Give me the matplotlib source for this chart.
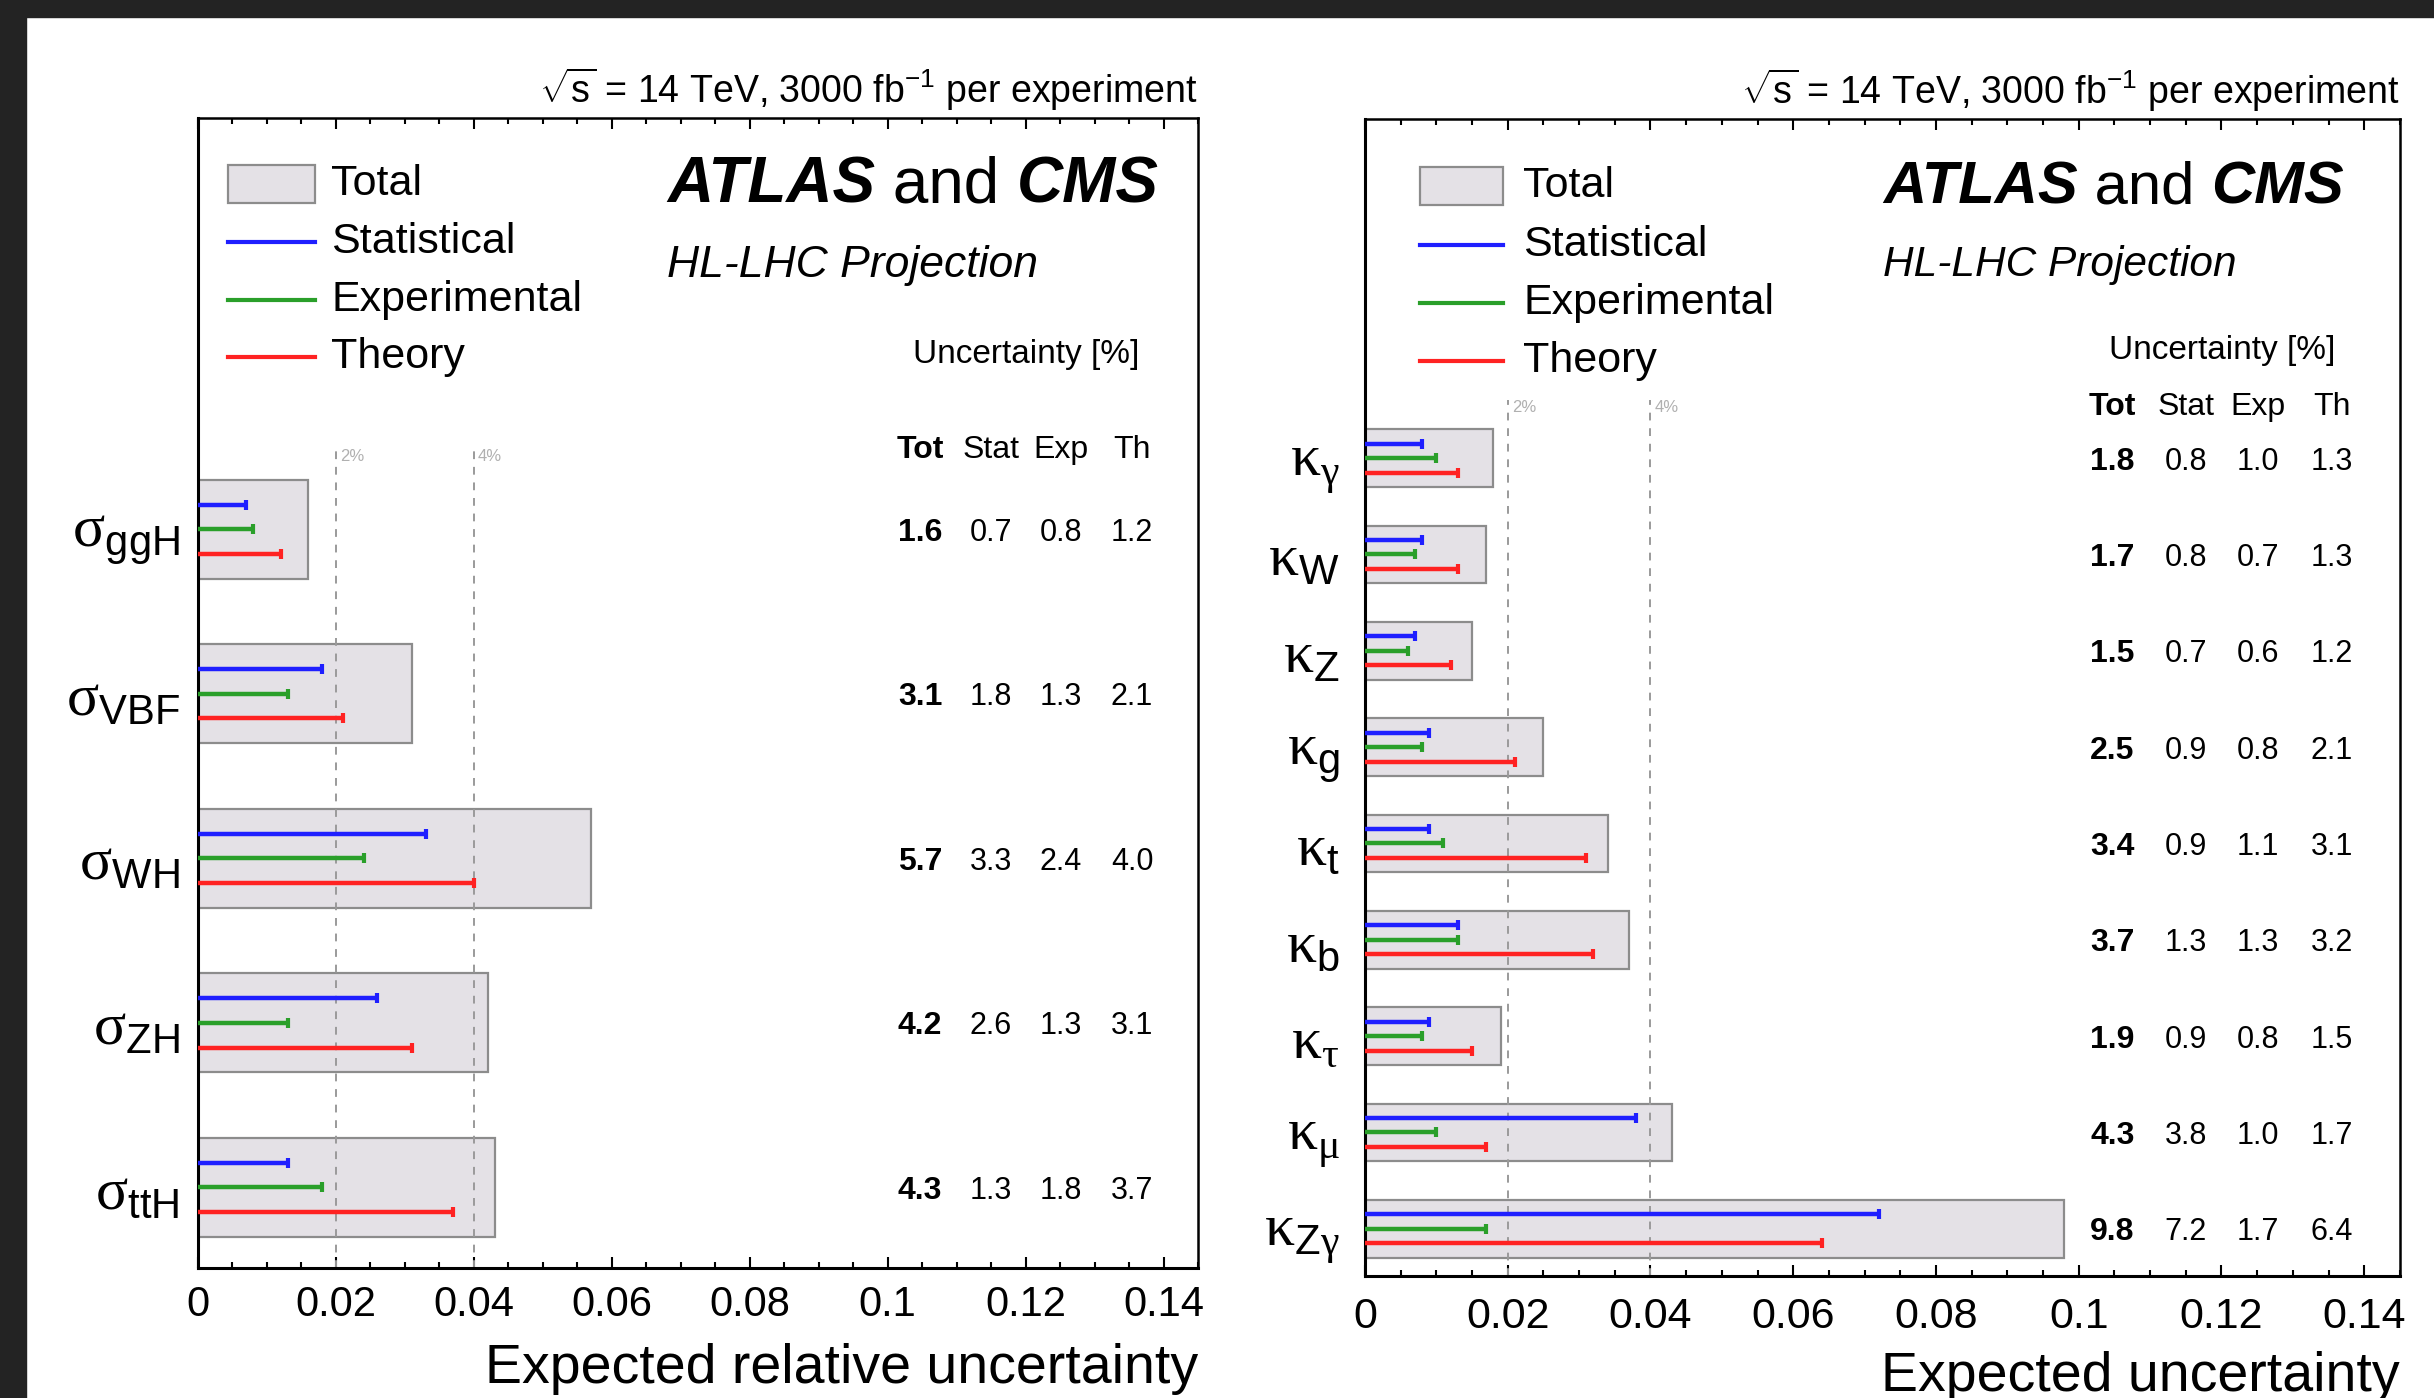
"""HL-LHC projection: expected uncertainties on cross sections and couplings."""
import matplotlib

matplotlib.use("Agg")
import matplotlib.pyplot as plt
from matplotlib.patches import Rectangle
from matplotlib.lines import Line2D
from matplotlib.ticker import MultipleLocator, FuncFormatter

plt.rcParams["font.family"] = ["Liberation Sans", "DejaVu Sans"]
plt.rcParams["mathtext.fontset"] = "custom"
plt.rcParams["mathtext.rm"] = "Liberation Serif"
plt.rcParams["mathtext.sf"] = "Liberation Sans"
plt.rcParams["mathtext.it"] = "Liberation Sans:italic"
plt.rcParams["mathtext.bf"] = "Liberation Sans:bold"

# ---- data (uncertainties in %) ----
proc_labels = [r"$\mathrm{\sigma}_{\mathsf{ggH}}$", r"$\mathrm{\sigma}_{\mathsf{VBF}}$",
               r"$\mathrm{\sigma}_{\mathsf{WH}}$", r"$\mathrm{\sigma}_{\mathsf{ZH}}$",
               r"$\mathrm{\sigma}_{\mathsf{ttH}}$"]
proc_tot = [1.6, 3.1, 5.7, 4.2, 4.3]
proc_stat = [0.7, 1.8, 3.3, 2.6, 1.3]
proc_exp = [0.8, 1.3, 2.4, 1.3, 1.8]
proc_th = [1.2, 2.1, 4.0, 3.1, 3.7]

kappa_labels = [r"$\mathrm{\kappa}_{\mathrm{\gamma}}$", r"$\mathrm{\kappa}_{\mathsf{W}}$",
                r"$\mathrm{\kappa}_{\mathsf{Z}}$", r"$\mathrm{\kappa}_{\mathsf{g}}$",
                r"$\mathrm{\kappa}_{\mathsf{t}}$", r"$\mathrm{\kappa}_{\mathsf{b}}$",
                r"$\mathrm{\kappa}_{\mathrm{\tau}}$", r"$\mathrm{\kappa}_{\mathrm{\mu}}$",
                r"$\mathrm{\kappa}_{\mathsf{Z}\mathrm{\gamma}}$"]
kappa_tot = [1.8, 1.7, 1.5, 2.5, 3.4, 3.7, 1.9, 4.3, 9.8]
kappa_stat = [0.8, 0.8, 0.7, 0.9, 0.9, 1.3, 0.9, 3.8, 7.2]
kappa_exp = [1.0, 0.7, 0.6, 0.8, 1.1, 1.3, 0.8, 1.0, 1.7]
kappa_th = [1.3, 1.3, 1.2, 2.1, 3.1, 3.2, 1.5, 1.7, 6.4]

col_names = ["Tot", "Stat", "Exp", "Th"]
ref_lines = [0.02, 0.04]
ref_labels = ["2%", "4%"]
legend_names = ["Total", "Statistical", "Experimental", "Theory"]

C_BOX = "#e4e1e6"
C_EDGE = "#8c8c8c"
C_STAT = "#1f1fff"
C_EXP = "#2a9f2a"
C_TH = "#ff2222"
C_REF = "#9a9a9a"

fig = plt.figure(figsize=(24.34, 13.98), dpi=100)
fig.patches.append(Rectangle((0, 1 - 0.0122), 1, 0.0122, transform=fig.transFigure,
                             color="#232323", zorder=0))
fig.patches.append(Rectangle((0, 0), 0.0107, 1, transform=fig.transFigure,
                             color="#232323", zorder=0))

ax_l = fig.add_axes([0.08135, 0.0930, 0.41085, 0.8226])
ax_r = fig.add_axes([0.5608, 0.0873, 0.4252, 0.8276])


def draw_panel(ax, labels, tot, stat, exp, th, *, ymin, ymax, ref_top, leg_x0, leg_x1,
               leg_tx, atlas_x, atlas_y, atlas_fs, proj_y, proj_fs, unc_y, head_y,
               ytick_pad, xtick_fs, xtick_pad, xlabel, xlabel_y):
    n = len(labels)
    ys = [n - 1 - i for i in range(n)]
    d = 0.15

    ax.barh(ys, [v / 100 for v in tot], height=0.6, left=0, color=C_BOX,
            edgecolor=C_EDGE, linewidth=1.6, zorder=1)
    for xr, lab in zip(ref_lines, ref_labels):
        ax.plot([xr, xr], [ymin, ref_top], color=C_REF, lw=1.4, ls=(0, (4, 4)), zorder=2)
        ax.text(xr + 0.0006, ref_top, lab, color="#b0b0b0", fontsize=12,
                ha="left", va="top", zorder=2)
    for vals, off, col in ((stat, d, C_STAT), (exp, 0, C_EXP), (th, -d, C_TH)):
        xs = [v / 100 for v in vals]
        yy = [y + off for y in ys]
        ax.hlines(yy, 0, xs, color=col, lw=3.2, zorder=3)
        ax.scatter(xs, yy, marker="|", s=45, color=col, linewidths=3, zorder=4)

    ax.set_xlim(0, 0.145)
    ax.set_ylim(ymin, ymax)
    ax.set_yticks(ys)
    ax.set_yticklabels(labels)
    ax.xaxis.set_major_locator(MultipleLocator(0.02))
    ax.xaxis.set_minor_locator(MultipleLocator(0.005))
    ax.xaxis.set_major_formatter(FuncFormatter(lambda v, p: f"{v:g}"))
    ax.tick_params(axis="x", which="both", direction="in", top=True, bottom=True,
                   width=1.5, labelsize=xtick_fs, pad=xtick_pad)
    ax.tick_params(axis="x", which="major", length=8)
    ax.tick_params(axis="x", which="minor", length=4)
    ax.tick_params(axis="y", length=0, labelsize=43, pad=ytick_pad)
    for side in ("left", "bottom"):
        ax.spines[side].set_linewidth(2.2)
    for side in ("top", "right"):
        ax.spines[side].set_linewidth(1.8)

    # table of numbers
    col_x = [0.722, 0.793, 0.863, 0.934]
    ytr = ax.get_yaxis_transform()
    for j, name in enumerate(col_names):
        ax.text(col_x[j], head_y, name, transform=ax.transAxes, fontsize=23,
                fontweight="bold" if j == 0 else "normal", ha="center", va="center")
    for i, y in enumerate(ys):
        for j, v in enumerate((tot[i], stat[i], exp[i], th[i])):
            ax.text(col_x[j], y, f"{v:.1f}", transform=ytr,
                    fontsize=23 if j == 0 else 22,
                    fontweight="bold" if j == 0 else "normal",
                    ha="center", va="center_baseline")
    ax.text(0.828, unc_y, "Uncertainty [%]", transform=ax.transAxes, fontsize=24,
            ha="center", va="center")

    # legend drawn by hand
    leg_y = [atlas_y + 0.002, atlas_y - 0.049, atlas_y - 0.099, atlas_y - 0.149]
    h = 0.033
    ax.add_patch(Rectangle((leg_x0, leg_y[0] - h / 2), leg_x1 - leg_x0, h,
                           transform=ax.transAxes, facecolor=C_BOX, edgecolor=C_EDGE,
                           lw=1.6, zorder=5))
    for k, col in enumerate((C_STAT, C_EXP, C_TH), start=1):
        ax.add_line(Line2D([leg_x0, leg_x1], [leg_y[k], leg_y[k]], color=col, lw=3,
                           transform=ax.transAxes, zorder=5))
    for k, name in enumerate(legend_names):
        ax.text(leg_tx, leg_y[k], name, transform=ax.transAxes, fontsize=31,
                ha="left", va="center")

    t1 = ax.text(atlas_x, atlas_y, "ATLAS", transform=ax.transAxes, fontsize=atlas_fs,
                 fontweight="bold", fontstyle="italic", ha="left", va="center")
    t2 = ax.annotate(" and ", xy=(1, 0), xycoords=t1, fontsize=atlas_fs,
                     ha="left", va="bottom")
    ax.annotate("CMS", xy=(1, 0), xycoords=t2, fontsize=atlas_fs, fontweight="bold",
                fontstyle="italic", ha="left", va="bottom")
    ax.text(atlas_x, proj_y, "HL-LHC Projection", transform=ax.transAxes,
            fontsize=proj_fs, fontstyle="italic", ha="left", va="center")

    ax.text(1.0, 1.004, r"$\sqrt{\mathsf{s}}$ = 14 TeV, 3000 fb$^{\mathsf{-1}}$ per experiment",
            transform=ax.transAxes, fontsize=27, ha="right", va="bottom")
    ax.text(1.0, xlabel_y, xlabel, transform=ax.transAxes, fontsize=40,
            ha="right", va="center")


draw_panel(ax_l, proc_labels, proc_tot, proc_stat, proc_exp, proc_th,
           ymin=-0.49, ymax=6.5, ref_top=4.49, leg_x0=0.03, leg_x1=0.117, leg_tx=0.133,
           atlas_x=0.469, atlas_y=0.941, atlas_fs=46, proj_y=0.872, proj_fs=32,
           unc_y=0.794, head_y=0.711, ytick_pad=13, xtick_fs=30, xtick_pad=12,
           xlabel="Expected relative uncertainty", xlabel_y=-0.088)
draw_panel(ax_r, kappa_labels, kappa_tot, kappa_stat, kappa_exp, kappa_th,
           ymin=-0.49, ymax=11.52, ref_top=8.6, leg_x0=0.053, leg_x1=0.133, leg_tx=0.153,
           atlas_x=0.501, atlas_y=0.940, atlas_fs=43, proj_y=0.874, proj_fs=30.5,
           unc_y=0.800, head_y=0.751, ytick_pad=18, xtick_fs=31, xtick_pad=15,
           xlabel="Expected uncertainty", xlabel_y=-0.087)

fig.savefig("out.png", dpi=100)
plt.close(fig)
